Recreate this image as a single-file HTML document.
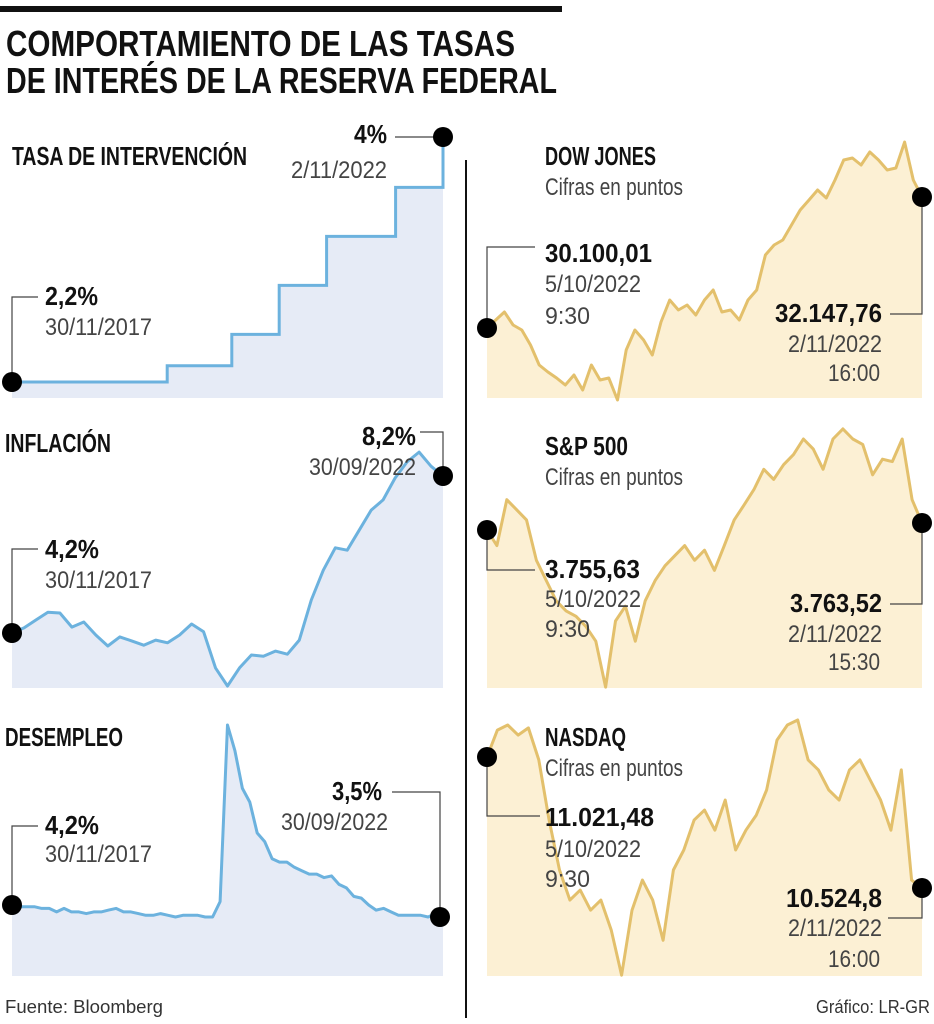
<!DOCTYPE html>
<html><head><meta charset="utf-8"><style>
html,body{margin:0;padding:0;background:#fff}
svg{display:block}
text{font-family:"Liberation Sans Narrow","Liberation Sans",sans-serif}
.t{font-weight:bold;font-size:26px;fill:#111}
.b{font-weight:bold;font-size:26px;fill:#111}
.g{font-size:24px;fill:#444}
.c{stroke:#444;stroke-width:1.2;fill:none}
</style></head><body>
<svg id="s" width="934" height="1024" viewBox="0 0 934 1024">
<rect x="0" y="6" width="562" height="6" fill="#111"/>
<text x="6" y="56" textLength="509" lengthAdjust="spacingAndGlyphs" style="font-weight:bold;font-size:36px;fill:#111">COMPORTAMIENTO DE LAS TASAS</text>
<text x="6" y="93" textLength="551" lengthAdjust="spacingAndGlyphs" style="font-weight:bold;font-size:36px;fill:#111">DE INTERÉS DE LA RESERVA FEDERAL</text>
<rect x="465" y="160" width="2" height="858" fill="#111"/>

<text class="t" x="12" y="165" textLength="235" lengthAdjust="spacingAndGlyphs">TASA DE INTERVENCIÓN</text>
<text class="t" x="5" y="452" textLength="106" lengthAdjust="spacingAndGlyphs">INFLACIÓN</text>
<text class="t" x="5" y="746" textLength="118" lengthAdjust="spacingAndGlyphs">DESEMPLEO</text>
<text class="t" x="545" y="165" textLength="111" lengthAdjust="spacingAndGlyphs">DOW JONES</text>
<text class="g" x="545" y="195" textLength="138" lengthAdjust="spacingAndGlyphs">Cifras en puntos</text>
<text class="t" x="545" y="455" textLength="83" lengthAdjust="spacingAndGlyphs">S&amp;P 500</text>
<text class="g" x="545" y="485" textLength="138" lengthAdjust="spacingAndGlyphs">Cifras en puntos</text>
<text class="t" x="545" y="746" textLength="81" lengthAdjust="spacingAndGlyphs">NASDAQ</text>
<text class="g" x="545" y="776" textLength="138" lengthAdjust="spacingAndGlyphs">Cifras en puntos</text>

<text x="5" y="1013" textLength="158" lengthAdjust="spacingAndGlyphs" style="font-size:18px;fill:#333">Fuente: Bloomberg</text>
<text x="816" y="1013" textLength="114" lengthAdjust="spacingAndGlyphs" style="font-size:18px;fill:#333">Gráfico: LR-GR</text>
</svg>
<script>
// ---- data ----
const rateSteps = [2.2, 2.2, 2.32, 2.55, 2.91, 3.27, 3.63, 4.0];
const rateStepX = [0, 0.36, 0.51, 0.62, 0.73, 0.89, 1.0];
const inflation = [4.2,4.33,4.53,4.73,4.71,4.35,4.48,4.15,3.87,4.1,4.0,3.89,4.02,3.95,4.15,4.43,4.23,3.31,2.85,3.31,3.64,3.61,3.74,3.66,4.02,5.04,5.8,6.37,6.31,6.82,7.33,7.59,8.15,8.56,8.81,8.45,8.2];
const unemployment = [4.2,4.1,4.1,4.1,4.0,4.0,3.8,4.0,3.8,3.8,3.7,3.8,3.8,3.9,4.0,3.8,3.8,3.7,3.6,3.6,3.7,3.6,3.5,3.6,3.6,3.6,3.5,3.5,4.4,14.7,13.2,11.0,10.2,8.4,7.9,6.9,6.7,6.7,6.4,6.2,6.0,6.0,5.8,5.9,5.4,5.2,4.7,4.6,4.2,3.9,4.0,3.8,3.6,3.6,3.6,3.6,3.5,3.7,3.5];
const dow = [30100,30225,30350,30147,30069,29834,29522,29412,29318,29209,29365,29131,29522,29287,29318,28975,29756,30069,29912,29678,30194,30538,30381,30459,30303,30538,30694,30350,30381,30225,30538,30694,31241,31397,31475,31710,31944,32100,32257,32132,32413,32726,32757,32648,32851,32726,32570,32601,33007,32413,32148];
const sp500 = [3756,3736,3795,3782,3769,3717,3691,3665,3652,3645,3632,3613,3554,3639,3658,3613,3665,3691,3710,3723,3736,3717,3730,3704,3736,3769,3788,3808,3834,3821,3840,3853,3873,3860,3834,3873,3886,3873,3866,3827,3847,3844,3873,3795,3765];
const nasdaq = [11021,11123,11142,11104,11131,11010,10782,10593,10479,10517,10441,10479,10365,10195,10441,10555,10479,10327,10593,10669,10782,10820,10744,10858,10669,10744,10801,10896,11085,11142,11161,11010,10972,10896,10858,10972,11010,10934,10858,10744,10972,10555,10525];

const NS='http://www.w3.org/2000/svg', svg=document.getElementById('s');
function mk(tag, attrs){const e=document.createElementNS(NS,tag);for(const k in attrs)e.setAttribute(k,attrs[k]);svg.appendChild(e);return e;}
function lin(d0,d1,r0,r1){return v=>r0+(v-d0)/(d1-d0)*(r1-r0);}

function series(vals, x0, x1, y, bottom, fill, stroke, name){
  const xs=lin(0,vals.length-1,x0,x1);
  let pts=vals.map((v,i)=>xs(i).toFixed(1)+','+y(v).toFixed(1));
  const a=mk('polygon',{points:x0+','+bottom+' '+pts.join(' ')+' '+x1+','+bottom,fill:fill});
  
  
  const l=mk('polyline',{points:pts.join(' '),fill:'none',stroke:stroke,'stroke-width':3,'stroke-linejoin':'round'});
  
  
}
function dot(x,y,name){const d=mk('circle',{cx:x,cy:y,r:10,fill:'#000'});
  
  }
function conn(p,name){const c=mk('polyline',{points:p,class:'c'});
  
  }
function txt(x,y,s,cls,anchor,name,w){const t=mk('text',{x:x,y:y,class:cls,'text-anchor':anchor||'start'});t.textContent=s;
  if(w){t.setAttribute('textLength',w);t.setAttribute('lengthAdjust','spacingAndGlyphs');}
  
  }

const BLUEF='#e6ebf6',BLUEL='#6cb2de',GOLDF='#fcf0d4',GOLDL='#e3c06c';

(function(){
  const y=lin(2.2,4.0,382,137), x=lin(0,1,12,443);
  let p=[[x(0),y(rateSteps[0])]];
  for(let i=1;i<rateStepX.length;i++){p.push([x(rateStepX[i]),y(rateSteps[i])]);p.push([x(rateStepX[i]),y(rateSteps[i+1])]);}
  const s=p.map(q=>q[0].toFixed(1)+','+q[1].toFixed(1)).join(' ');
  const a=mk('polygon',{points:'12,398 '+s+' 443,398',fill:BLUEF});
  
  
  const l=mk('polyline',{points:s,fill:'none',stroke:BLUEL,'stroke-width':3});
  
  
  conn('12,382 12,297 38,297','rate-start-connector');
  conn('395,137 443,137','rate-end-connector');
  dot(12,382,'rate-start-dot');dot(443,137,'rate-end-dot');
})();
txt(387,143,'4%','b','end','rate-end-value',33);txt(387,178,'2/11/2022','g','end','rate-end-date',96);
txt(45,305,'2,2%','b','start','rate-start-value',53);txt(45,335,'30/11/2017','g','start','rate-start-date',107);

series(inflation,12,443,lin(4.2,8.2,633,476),688,BLUEF,BLUEL,'inflation');
conn('12,633 12,549 38,549','inflation-start-connector');
conn('420,432 443,432 443,476','inflation-end-connector');
dot(12,633,'inflation-start-dot');dot(443,476,'inflation-end-dot');
txt(416,445,'8,2%','b','end','inflation-end-value',54);txt(416,475,'30/09/2022','g','end','inflation-end-date',107);
txt(45,558,'4,2%','b','start','inflation-start-value',54);txt(45,588,'30/11/2017','g','start','inflation-start-date',107);

series(unemployment,12,443,lin(4.2,3.5,905,917),976,BLUEF,BLUEL,'unemployment');
conn('12,905 12,826 38,826','unemployment-start-connector');
conn('392,792 440,792 440,917','unemployment-end-connector');
dot(12,905,'unemployment-start-dot');dot(440,917,'unemployment-end-dot');
txt(382,800,'3,5%','b','end','unemployment-end-value',50);txt(388,830,'30/09/2022','g','end','unemployment-end-date',107);
txt(45,834,'4,2%','b','start','unemployment-start-value',54);txt(45,862,'30/11/2017','g','start','unemployment-start-date',107);

series(dow,487,922,lin(30100,32148,328,197),398,GOLDF,GOLDL,'dow');
conn('487,328 487,247 535,247','dow-start-connector');
conn('890,314 922,314 922,197','dow-end-connector');
dot(487,328,'dow-start-dot');dot(922,197,'dow-end-dot');
txt(545,262,'30.100,01','b','start','dow-start-value',107);txt(545,292,'5/10/2022','g','start','dow-start-date',96);txt(545,324,'9:30','g','start','dow-start-time',45);
txt(882,322,'32.147,76','b','end','dow-end-value',107);txt(882,352,'2/11/2022','g','end','dow-end-date',94);txt(880,381,'16:00','g','end','dow-end-time',52);

series(sp500,487,922,lin(3756,3765,530,523),688,GOLDF,GOLDL,'sp500');
conn('487,530 487,570 535,570','sp-start-connector');
conn('922,523 922,604 890,604','sp-end-connector');
dot(487,530,'sp-start-dot');dot(922,523,'sp-end-dot');
txt(545,578,'3.755,63','b','start','sp-start-value',95);txt(545,607,'5/10/2022','g','start','sp-start-date',96);txt(545,637,'9:30','g','start','sp-start-time',45);
txt(882,612,'3.763,52','b','end','sp-end-value',92);txt(882,642,'2/11/2022','g','end','sp-end-date',94);txt(880,670,'15:30','g','end','sp-end-time',52);

series(nasdaq,487,922,lin(11021,10525,757,888),976,GOLDF,GOLDL,'nasdaq');
conn('487,757 487,816 540,816','nasdaq-start-connector');
conn('922,888 922,918 888,918','nasdaq-end-connector');
dot(487,757,'nasdaq-start-dot');dot(922,888,'nasdaq-end-dot');
txt(545,826,'11.021,48','b','start','nasdaq-start-value',109);txt(545,857,'5/10/2022','g','start','nasdaq-start-date',96);txt(545,887,'9:30','g','start','nasdaq-start-time',45);
txt(882,907,'10.524,8','b','end','nasdaq-end-value',96);txt(882,936,'2/11/2022','g','end','nasdaq-end-date',94);txt(880,967,'16:00','g','end','nasdaq-end-time',52);
</script>
</body></html>
